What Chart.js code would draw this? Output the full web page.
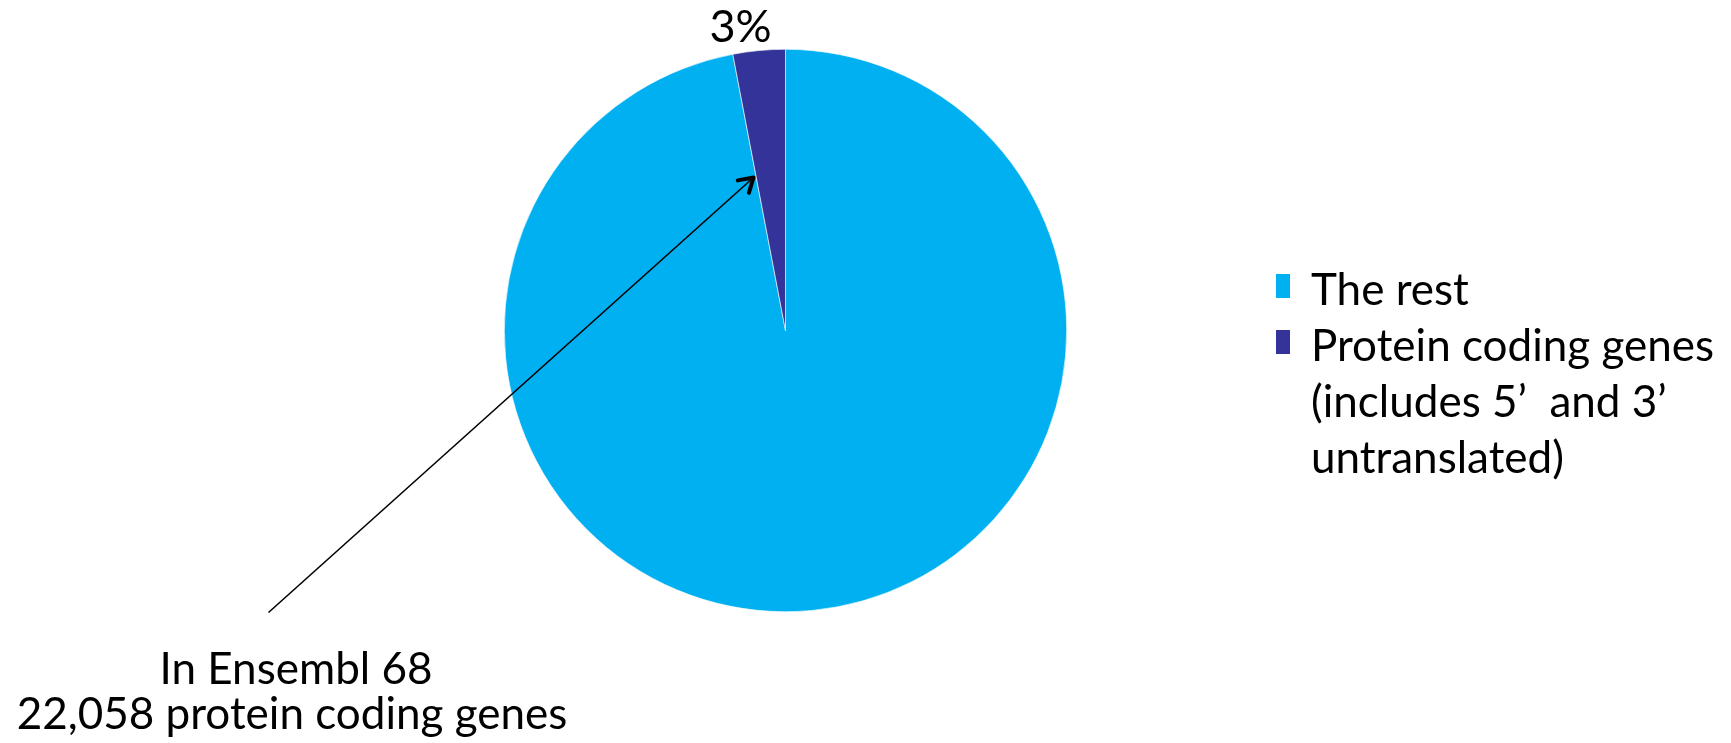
<!DOCTYPE html>
<html>
<head>
<meta charset="utf-8">
<script src="https://cdn.jsdelivr.net/npm/chart.js@4"></script>
<style>
html,body{margin:0;padding:0;background:#fff;}
#wrap{position:relative;width:1731px;height:743px;}
</style>
</head>
<body>
<div id="wrap"><canvas id="c" width="1731" height="743"></canvas></div>
<script>
const categories = ["The rest", "Protein coding genes (includes 5’ and 3’ untranslated)"];
const legendLines = [["The rest"], ["Protein coding genes", "(includes 5’  and 3’", "untranslated)"]];
const values = [97, 3];
const colors = ["#00B0F0", "#333399"];
const sliceLabel = "3%";
const noteLines = ["In Ensembl 68", "22,058 protein coding genes"];

const FONT = "Lato, 'Open Sans', sans-serif";

const overlay = {
  id: 'overlay',
  afterDraw(chart) {
    const ctx = chart.ctx;
    const meta = chart.getDatasetMeta(0);
    const arc = meta.data[1];
    const cx = arc.x, cy = arc.y, r = arc.outerRadius;
    ctx.save();
    ctx.fillStyle = '#000';
    ctx.font = '45px ' + FONT;
    ctx.textAlign = 'center';
    ctx.textBaseline = 'alphabetic';
    ctx.fillText(sliceLabel, cx - 45, cy - r - 7);

    // arrow
    const tipX = cx - 32, tipY = cy - 153;
    const tailX = cx - 517, tailY = cy + 282;
    ctx.strokeStyle = '#000';
    ctx.lineWidth = 1.6;
    ctx.beginPath();
    ctx.moveTo(tailX, tailY);
    ctx.lineTo(tipX, tipY);
    ctx.stroke();
    const ang = Math.atan2(tipY - tailY, tipX - tailX);
    const hl = 16, ha = 0.55;
    ctx.lineWidth = 4;
    ctx.lineCap = 'round';
    ctx.lineJoin = 'round';
    ctx.beginPath();
    ctx.moveTo(tipX - hl * Math.cos(ang - ha), tipY - hl * Math.sin(ang - ha));
    ctx.lineTo(tipX, tipY);
    ctx.lineTo(tipX - hl * Math.cos(ang + ha), tipY - hl * Math.sin(ang + ha));
    ctx.stroke();

    // note text
    ctx.font = '44px ' + FONT;
    ctx.textAlign = 'center';
    ctx.fillText(noteLines[0], 296, 684);
    ctx.fillText(noteLines[1], 292, 729);

    // legend
    ctx.textAlign = 'left';
    let y = 305;
    legendLines.forEach((lines, i) => {
      ctx.fillStyle = colors[i];
      ctx.fillRect(1276, y - 31, 14, 24);
      ctx.fillStyle = '#000';
      lines.forEach((t) => {
        ctx.fillText(t, 1311, y);
        y += 56;
      });
    });
    ctx.restore();
  }
};

new Chart(document.getElementById('c'), {
  type: 'pie',
  data: {
    labels: categories,
    datasets: [{
      data: values,
      backgroundColor: colors,
      borderColor: '#ffffff',
      borderWidth: 0.6
    }]
  },
  options: {
    responsive: false,
    animation: false,
    rotation: 0,
    layout: { padding: { top: 49, bottom: 131, left: 504, right: 664 } },
    plugins: {
      legend: { display: false },
      tooltip: { enabled: false }
    }
  },
  plugins: [overlay]
});
</script>
</body>
</html>
